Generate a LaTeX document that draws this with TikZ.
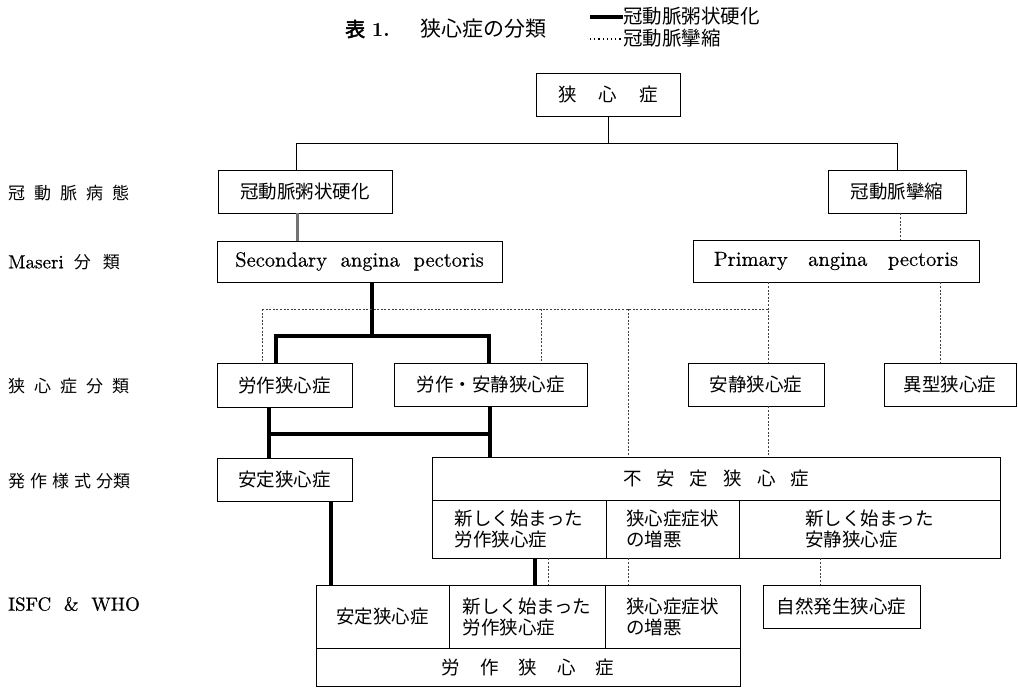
\documentclass[tikz,border=0pt]{standalone}
\usepackage{fontspec}
\newfontfamily\jp[AutoFakeBold=2.5]{Noto Sans CJK JP}
\newfontfamily\latf[FakeBold=0.4]{lmroman10-regular.otf}
\newfontfamily\latb{lmroman10-bold.otf}
\newcommand\jbox{\jp\fontsize{18.5}{21}\selectfont}
\newcommand\jlab{\jp\fontsize{17}{20}\selectfont}
\newcommand\lat{\latf\fontsize{20.5}{23}\selectfont}
\newcommand\latlab{\latf\fontsize{19}{22}\selectfont}
\begin{document}
\begin{tikzpicture}[x=1pt,y=-1pt,
  box/.style={draw, line width=0.8pt, inner sep=0pt, font=\jbox, align=left},
  link/.style={line width=0.9pt},
  heavy/.style={line width=4.5pt},
  heavygray/.style={line width=3pt, draw=black!55},
  dotline/.style={line width=0.7pt, draw=black!75, dash pattern=on 2pt off 1.6pt},
  lab/.style={anchor=west, inner sep=0pt, font=\jlab}
]
\useasboundingbox (0,0) rectangle (1018,689);

% title and legend
\node[anchor=west, inner sep=0pt, font=\latb\fontsize{20}{23}\selectfont] (tnum) at (345,29) {{\jp\bfseries 表}\,\,1.};
\node[anchor=west, inner sep=0pt, font=\jp\fontsize{21}{24}\selectfont] (ttl) at (420,29) {狭心症の分類};
\node[anchor=west, inner sep=0pt, font=\jp\fontsize{19.5}{22}\selectfont] (leg1) at (623,16) {冠動脈粥状硬化};
\node[anchor=west, inner sep=0pt, font=\jp\fontsize{19.5}{22}\selectfont] (leg2) at (623,38) {冠動脈攣縮};
\coordinate (l1) at (590,17);
\coordinate (l2) at (590,39);
\draw[line width=3.5pt] (l1) -- (l1 -| leg1.west);
\draw[line width=1.2pt, dash pattern=on 1.2pt off 3pt] (l2) -- (l2 -| leg2.west);

% left labels
\node[lab] (r1) at (8,193) {冠\hspace{9pt}動\hspace{9pt}脈\hspace{9pt}病\hspace{9pt}態};
\node[lab] (r2) at (8,262) {{\latlab Maseri}\hspace{10pt}分\hspace{12pt}類};
\node[lab] (r3) at (8,386) {狭\hspace{9pt}心\hspace{9pt}症\hspace{9pt}分\hspace{9pt}類};
\node[lab] (r4) at (8,481) {発\hspace{5pt}作\hspace{5pt}様\hspace{5pt}式\hspace{5pt}分類};
\node[anchor=west, inner sep=0pt, font=\latlab] (r5) at (8,604) {ISFC\ \ \&\ \ WHO};

% boxes
\node[box, minimum width=144, minimum height=43] (top) at (608,94.5) {狭\hspace{22pt}心\hspace{22pt}症};
\node[box, minimum width=174, minimum height=43] (ath) at (305,191.5) {冠動脈粥状硬化};
\node[box, minimum width=138, minimum height=43] (spa) at (897,191.5) {冠動脈攣縮};
\node[box, minimum width=285, minimum height=41, font=\lat] (sec) at (359.5,261.5) {Secondary\ \ angina\ \ pectoris};
\node[box, minimum width=286, minimum height=42, font=\lat] (pri) at (836,261) {Primary\ \ \ angina\ \ \ pectoris};
\node[box, minimum width=135, minimum height=44] (rosa) at (284.5,385) {労作狭心症};
\node[box, minimum width=193, minimum height=43] (rose) at (490.5,384.5) {労作・安静狭心症};
\node[box, minimum width=136, minimum height=43] (ansei) at (756,384.5) {安静狭心症};
\node[box, minimum width=132, minimum height=43] (ikei) at (950,384.5) {異型狭心症};
\node[box, minimum width=135, minimum height=43] (stab) at (284.5,479.5) {安定狭心症};

% unstable table
\node[box, minimum width=568, minimum height=43] (unst) at (716,478.5) {不\hspace{15pt}安\hspace{15pt}定\hspace{15pt}狭\hspace{15pt}心\hspace{15pt}症};
\node[box, minimum width=174, minimum height=58] (u1) at (519,529) {新しく始まった\\労作狭心症};
\node[box, minimum width=133, minimum height=58] (u2) at (672.5,529) {狭心症症状\\の増悪};
\node[box, minimum width=261, minimum height=58] (u3) at (869.5,529) {新しく始まった\\安静狭心症};

% ISFC table
\node[box, minimum width=133, minimum height=63] (i1) at (382.5,616.5) {安定狭心症};
\node[box, minimum width=156, minimum height=63] (i2) at (527,616.5) {新しく始まった\\労作狭心症};
\node[box, minimum width=135, minimum height=63] (i3) at (672.5,616.5) {狭心症症状\\の増悪};
\node[box, minimum width=424, minimum height=38] (i4) at (528,667) {労\hspace{20pt}作\hspace{20pt}狭\hspace{20pt}心\hspace{20pt}症};
\node[box, minimum width=157, minimum height=43] (shz) at (841.5,606.5) {自然発生狭心症};

% connectors: top level
\coordinate (b1) at (296,143);
\coordinate (b2) at (897,143);
\draw[link] (top.south) -- (top.south |- b1);
\draw[link] (b1) -- (b2);
\draw[link] (b1) -- (b1 |- ath.north);
\draw[link] (b2) -- (b2 |- spa.north);
\draw[heavygray] ([xshift=-8]ath.south) -- ([xshift=-8]ath.south |- sec.north);
\draw[dotline] ([xshift=3]spa.south) -- ([xshift=3]spa.south |- pri.north);

% secondary branches (thick)
\coordinate (h1) at (276,336);
\coordinate (h2) at (489,336);
\draw[heavy] ([xshift=12.5]sec.south) -- ([xshift=12.5]sec.south |- h1);
\draw[heavy] ([xshift=-2.25]h1) -- ([xshift=2.25]h2);
\draw[heavy] (h1) -- (h1 |- rosa.north);
\draw[heavy] (h2) -- (h2 |- rose.north);

% primary branches (dotted)
\coordinate (d0) at (768,309);
\coordinate (d1) at (262,309);
\coordinate (d2) at (541,309);
\coordinate (d3) at (628,309);
\draw[dotline] ([xshift=-68]pri.south) -- ([xshift=-68]pri.south |- ansei.north);
\draw[dotline] ([xshift=104]pri.south) -- ([xshift=104]pri.south |- ikei.north);
\draw[dotline] (d0) -- (d1);
\draw[dotline] (d1) -- (d1 |- rosa.north);
\draw[dotline] (d2) -- (d2 |- rose.north);
\draw[dotline] (d3) -- (d3 |- unst.north);

% angina class -> attack type
\coordinate (k1) at (269,434);
\coordinate (k2) at (490,434);
\draw[heavy] (k1 |- rosa.south) -- (k1 |- stab.north);
\draw[heavy] ([xshift=-2.25]k1) -- ([xshift=2.25]k2);
\draw[heavy] (k2 |- rose.south) -- (k2 |- unst.north);
\draw[dotline] ([xshift=12]ansei.south) -- ([xshift=12]ansei.south |- unst.north);

% attack type -> ISFC & WHO
\draw[heavy] ([xshift=-51.5]i1.north |- stab.south) -- ([xshift=-51.5]i1.north);
\draw[heavy] ([xshift=16]u1.south) -- ([xshift=16]u1.south |- i2.north);
\draw[dotline] ([xshift=29]u1.south) -- ([xshift=29]u1.south |- i2.north);
\draw[dotline] ([xshift=-44.5]u2.south) -- ([xshift=-44.5]u2.south |- i3.north);
\draw[dotline] ([xshift=-49.5]u3.south) -- ([xshift=-49.5]u3.south |- shz.north);
\end{tikzpicture}
\end{document}
